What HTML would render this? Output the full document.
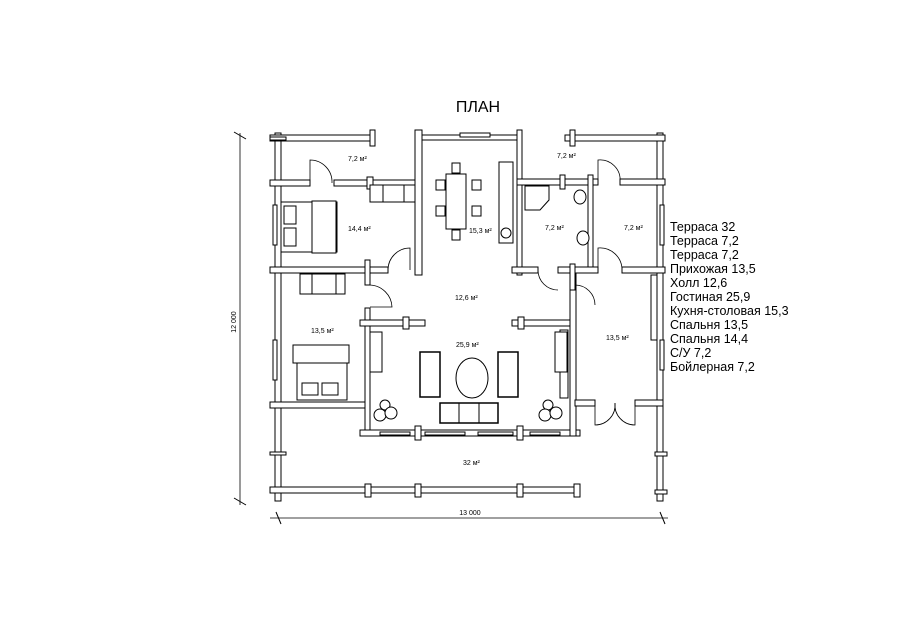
<!DOCTYPE html>
<html><head><meta charset="utf-8"><style>
html,body{margin:0;padding:0;background:#fff;width:900px;height:636px;overflow:hidden}
svg{display:block}
text{font-family:"Liberation Sans",sans-serif;fill:#000}
.w{fill:#fff;stroke:#000;stroke-width:1}
.f{fill:#fff;stroke:#000;stroke-width:1}
.t{font-size:7px}
.l{font-size:12.5px}
</style></head><body>
<svg width="900" height="636" viewBox="0 0 900 636">
<text x="478" y="112" font-size="16" text-anchor="middle">ПЛАН</text>

<!-- dimension lines -->
<line x1="240" y1="133" x2="240" y2="505" stroke="#000" stroke-width="0.8"/>
<line x1="234" y1="132" x2="246" y2="139" stroke="#000"/>
<line x1="234" y1="498" x2="246" y2="505" stroke="#000"/>
<text x="236" y="322" font-size="7" transform="rotate(-90 236 322)" text-anchor="middle">12 000</text>
<line x1="270" y1="518" x2="668" y2="518" stroke="#000" stroke-width="0.8"/>
<line x1="276" y1="512" x2="281" y2="524" stroke="#000"/>
<line x1="660" y1="512" x2="665" y2="524" stroke="#000"/>
<text x="470" y="515" font-size="7" text-anchor="middle">13 000</text>

<g class="w">
<!-- outer left & right walls -->
<rect x="275" y="133" width="6" height="368"/>
<rect x="657" y="133" width="6" height="368"/>
<!-- top walls -->
<rect x="270" y="135" width="105" height="6"/>
<rect x="415" y="135" width="102" height="5"/>
<rect x="565" y="135" width="100" height="6"/>
<!-- bottom terrace -->
<rect x="270" y="487" width="310" height="6"/>
<!-- left wings -->
<rect x="270" y="180" width="40" height="6"/>
<rect x="334" y="180" width="86" height="6"/>
<rect x="270" y="267" width="118" height="6"/>
<rect x="415" y="130" width="7" height="145"/>
<rect x="365" y="260" width="5" height="25"/>
<rect x="365" y="308" width="5" height="128"/>
<rect x="270" y="402" width="95" height="6"/>
<!-- living -->
<rect x="360" y="320" width="65" height="6"/>
<rect x="512" y="320" width="63" height="6"/>
<rect x="360" y="430" width="220" height="6"/>
<rect x="570" y="267" width="6" height="169"/>
<!-- right side -->
<rect x="517" y="130" width="5" height="145"/>
<rect x="517" y="179" width="81" height="6"/>
<rect x="588" y="175" width="5" height="98"/>
<rect x="620" y="179" width="45" height="6"/>
<rect x="512" y="267" width="26" height="6"/>
<rect x="558" y="267" width="40" height="6"/>
<rect x="622" y="267" width="43" height="6"/>
<rect x="575" y="400" width="20" height="6"/>
<rect x="635" y="400" width="28" height="6"/>
</g>
<!-- posts -->
<g class="w">
<rect x="270" y="137" width="16" height="3"/><rect x="370" y="130" width="5" height="16"/>
<rect x="270" y="452" width="16" height="3"/><rect x="365" y="484" width="6" height="13"/>
<rect x="415" y="484" width="6" height="13"/><rect x="517" y="484" width="6" height="13"/>
<rect x="574" y="484" width="6" height="13"/><rect x="655" y="452" width="12" height="4"/>
<rect x="655" y="490" width="12" height="4"/><rect x="415" y="426" width="6" height="14"/>
<rect x="517" y="426" width="6" height="14"/><rect x="403" y="317" width="6" height="12"/>
<rect x="518" y="317" width="6" height="12"/><rect x="367" y="177" width="6" height="12"/>
<rect x="570" y="130" width="5" height="16"/><rect x="560" y="175" width="5" height="14"/>
<rect x="570" y="264" width="5" height="26"/>
</g>
<!-- windows -->
<g class="f">
<rect x="273" y="205" width="4" height="40"/><rect x="273" y="340" width="4" height="40"/>
<rect x="660" y="205" width="4" height="40"/><rect x="660" y="340" width="4" height="30"/>
<rect x="651" y="275" width="6" height="65"/><rect x="560" y="330" width="8" height="68"/>
<rect x="460" y="133" width="30" height="4"/>
<rect x="380" y="432" width="30" height="3"/><rect x="425" y="432" width="40" height="3"/>
<rect x="478" y="432" width="35" height="3"/><rect x="530" y="432" width="30" height="3"/>
</g>
<!-- doors -->
<g fill="none" stroke="#000" stroke-width="0.8">
<path d="M310 183 L310 160 A22 22 0 0 1 332 183"/>
<path d="M388 270 A22 22 0 0 1 410 248 L410 270"/>
<path d="M370 285 A23 23 0 0 1 392 307 L370 307"/>
<path d="M538 270 A20 20 0 0 0 558 290"/>
<path d="M575 285 A20 20 0 0 1 595 305"/>
<path d="M598 182 L598 160 A20 20 0 0 1 620 182"/>
<path d="M598 270 L598 248 A22 22 0 0 1 622 270"/>
<path d="M595 403 L595 425 A20 20 0 0 0 615 403"/>
<path d="M635 403 L635 425 A20 20 0 0 1 615 403"/>
</g>
<!-- furniture -->
<g class="f">
<rect x="281" y="202" width="56" height="50"/><rect x="284" y="206" width="12" height="18"/><rect x="284" y="228" width="12" height="18"/><rect x="312" y="201" width="24" height="52"/>
<rect x="370" y="185" width="45" height="17"/><line x1="383" y1="185" x2="383" y2="202"/><line x1="404" y1="185" x2="404" y2="202"/>
<rect x="300" y="274" width="45" height="20"/><line x1="312" y1="274" x2="312" y2="294"/><line x1="336" y1="274" x2="336" y2="294"/>
<rect x="297" y="345" width="50" height="55"/><rect x="293" y="345" width="56" height="18"/><rect x="302" y="383" width="16" height="12"/><rect x="322" y="383" width="16" height="12"/>
<rect x="446" y="174" width="20" height="55"/>
<rect x="436" y="180" width="9" height="10"/><rect x="436" y="206" width="9" height="10"/><rect x="472" y="180" width="9" height="10"/><rect x="472" y="206" width="9" height="10"/><rect x="452" y="163" width="8" height="10"/><rect x="452" y="230" width="8" height="10"/>
<rect x="499" y="162" width="14" height="81"/><circle cx="506" cy="233" r="5"/>
<path d="M525 186 L549 186 L549 200 L540 210 L525 210 Z"/>
<ellipse cx="580" cy="197" rx="6" ry="7"/><ellipse cx="583" cy="238" rx="6" ry="7"/>
<rect x="420" y="352" width="20" height="45" stroke-width="1.5"/><rect x="498" y="352" width="20" height="45" stroke-width="1.5"/>
<ellipse cx="472" cy="378" rx="16" ry="20"/>
<rect x="440" y="403" width="58" height="20" stroke-width="1.5"/><line x1="459" y1="403" x2="459" y2="423"/><line x1="479" y1="403" x2="479" y2="423"/>
<rect x="370" y="332" width="12" height="40"/><rect x="555" y="332" width="12" height="40"/>
<circle cx="385" cy="405" r="5"/><circle cx="380" cy="415" r="6"/><circle cx="391" cy="413" r="6"/>
<circle cx="548" cy="405" r="5"/><circle cx="545" cy="415" r="6"/><circle cx="556" cy="413" r="6"/>
</g>
<!-- labels -->
<g class="t">
<text x="348" y="161">7,2 м²</text>
<text x="348" y="231">14,4 м²</text>
<text x="469" y="233">15,3 м²</text>
<text x="557" y="158">7,2 м²</text>
<text x="545" y="230">7,2 м²</text>
<text x="624" y="230">7,2 м²</text>
<text x="455" y="300">12,6 м²</text>
<text x="311" y="333">13,5 м²</text>
<text x="456" y="347">25,9 м²</text>
<text x="606" y="340">13,5 м²</text>
<text x="463" y="465">32 м²</text>
</g>
<g class="l">
<text x="670" y="231">Терраса 32</text>
<text x="670" y="245">Терраса 7,2</text>
<text x="670" y="259">Терраса 7,2</text>
<text x="670" y="273">Прихожая 13,5</text>
<text x="670" y="287">Холл 12,6</text>
<text x="670" y="301">Гостиная 25,9</text>
<text x="670" y="315">Кухня-столовая 15,3</text>
<text x="670" y="329">Спальня 13,5</text>
<text x="670" y="343">Спальня 14,4</text>
<text x="670" y="357">С/У 7,2</text>
<text x="670" y="371">Бойлерная 7,2</text>
</g>
</svg>
</body></html>
